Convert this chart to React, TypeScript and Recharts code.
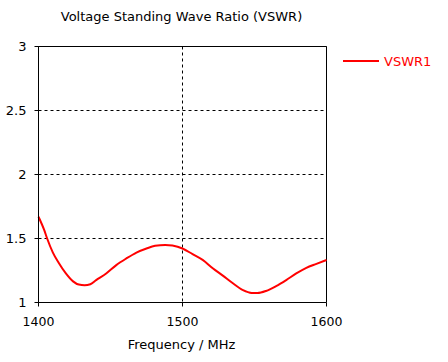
import React from "react";
import {
  LineChart,
  Line,
  XAxis,
  YAxis,
  CartesianGrid,
  ReferenceLine,
  Legend,
} from "recharts";

// frequency points (MHz)
const FREQ = [
  1400, 1404, 1406, 1410, 1414, 1419, 1424, 1428, 1432, 1436, 1440, 1447,
  1454, 1461, 1468, 1475, 1481, 1488, 1493, 1500, 1507, 1514, 1521, 1528,
  1535, 1542, 1548, 1552, 1558, 1565, 1572, 1579, 1586, 1593, 1600,
];

const VSWR1 = [
  1.67, 1.565, 1.5, 1.39, 1.31, 1.227, 1.165, 1.14, 1.135, 1.143, 1.175, 1.227,
  1.292, 1.344, 1.39, 1.422, 1.443, 1.45, 1.445, 1.422, 1.378, 1.333, 1.268, 1.21,
  1.15, 1.097, 1.075, 1.074, 1.09, 1.128, 1.175, 1.227, 1.271, 1.302, 1.332,
];

const X_TICKS = [1400, 1500, 1600];
const Y_TICKS = [1, 1.5, 2, 2.5, 3];

const TITLE = "Voltage Standing Wave Ratio (VSWR)";
const X_LABEL = "Frequency / MHz";
const SERIES_NAME = "VSWR1";

const FONT = "'DejaVu Sans', Tahoma, sans-serif";
const RED = "#ff0000";

const data = FREQ.map((f, i) => ({ freq: f, vswr: VSWR1[i] }));

function LegendBox() {
  return (
    <div style={{ display: "flex", alignItems: "center", height: 15 }}>
      <svg width={36} height={4} style={{ display: "block" }}>
        <line x1={0} y1={2} x2={36} y2={2} stroke={RED} strokeWidth={2} />
      </svg>
      <span
        style={{
          marginLeft: 5,
          color: RED,
          fontSize: 13,
          lineHeight: "15px",
          position: "relative",
          top: 1,
        }}
      >
        {SERIES_NAME}
      </span>
    </div>
  );
}

export default function App() {
  return (
    <div
      style={{
        position: "absolute",
        left: 0,
        top: 0,
        width: 448,
        height: 362,
        background: "#fff",
        fontFamily: FONT,
        color: "#000",
      }}
    >
      <div
        style={{
          position: "absolute",
          left: 0,
          top: 9,
          width: 363,
          textAlign: "center",
          fontSize: 13,
          lineHeight: "15px",
        }}
      >
        {TITLE}
      </div>

      <LineChart
        width={448}
        height={362}
        data={data}
        margin={{ top: 46.5, right: 121.5, bottom: 29.5, left: 0 }}
      >
        <CartesianGrid stroke="#000" strokeDasharray="3 3" />
        <XAxis
          dataKey="freq"
          type="number"
          domain={[1400, 1600]}
          ticks={X_TICKS}
          height={30}
          tickSize={4}
          tickMargin={11}
          stroke="#000"
          tick={{ fontSize: 12.5, fill: "#000" }}
          axisLine={{ stroke: "#000" }}
          tickLine={{ stroke: "#000" }}
        />
        <YAxis
          type="number"
          domain={[1, 3]}
          ticks={Y_TICKS}
          width={38.5}
          tickSize={4}
          tickMargin={8}
          stroke="#000"
          tick={{ fontSize: 13, fill: "#000" }}
          axisLine={{ stroke: "#000" }}
          tickLine={{ stroke: "#000" }}
        />
        <ReferenceLine y={3} stroke="#000" />
        <ReferenceLine x={1600} stroke="#000" />
        <Legend
          layout="vertical"
          align="center"
          verticalAlign="middle"
          wrapperStyle={{ left: 343, top: 53, width: 105 }}
          content={() => <LegendBox />}
        />
        <Line
          type="monotone"
          dataKey="vswr"
          name={SERIES_NAME}
          stroke={RED}
          strokeWidth={2}
          dot={false}
          isAnimationActive={false}
        />
      </LineChart>

      <div
        style={{
          position: "absolute",
          left: 0,
          top: 337,
          width: 363,
          textAlign: "center",
          fontSize: 13,
          lineHeight: "15px",
        }}
      >
        {X_LABEL}
      </div>
    </div>
  );
}
